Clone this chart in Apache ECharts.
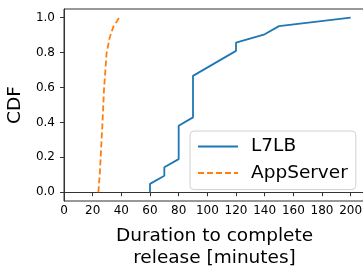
<!DOCTYPE html>
<html>
<head>
<meta charset="utf-8">
<script src="https://cdn.jsdelivr.net/npm/echarts@6/dist/echarts.min.js"></script>
<style>
  html, body { margin: 0; padding: 0; background: #fff; }
  #chart { width: 363px; height: 266px; }
</style>
</head>
<body>
<div id="chart"></div>
<script>
// CDF of release duration
const l7lbMinutes = [60, 60, 70, 70, 80, 80, 90, 90, 120, 120, 140, 150, 200]
const l7lbCdf = [0, 0.048, 0.095, 0.143, 0.19, 0.381, 0.429, 0.667, 0.81, 0.857, 0.905, 0.952, 1.0]

const appMinutes = [24, 25, 26.7, 27.9, 29.7, 32, 34.4, 38.5]
const appCdf = [0, 0.11, 0.376, 0.586, 0.796, 0.89, 0.948, 1.0]

const xTicks = [0, 20, 40, 60, 80, 100, 120, 140, 160, 180, 200]
const yTicks = [0, 0.2, 0.4, 0.6, 0.8, 1.0]

const font = 'DejaVu Sans'
const pair = (xs, ys) => xs.map((x, i) => [x, ys[i]])

const chart = echarts.init(document.getElementById('chart'), null, { renderer: 'canvas' })

chart.setOption({
  animation: false,
  grid: {
    left: 64, top: 9, width: 301, height: 192,
    outerBoundsMode: 'none', containLabel: false,
    show: true, borderColor: '#333', borderWidth: 1, backgroundColor: 'transparent'
  },
  xAxis: {
    type: 'value', min: 0, max: 210,
    name: 'Duration to complete\nrelease [minutes]',
    nameLocation: 'middle', nameGap: 24,
    nameTextStyle: { fontFamily: font, fontSize: 18.5, lineHeight: 22, color: '#000' },
    axisLine: { show: true, lineStyle: { color: '#333', width: 1 } },
    axisTick: { show: true, length: 4, customValues: xTicks, lineStyle: { color: '#333' } },
    axisLabel: { customValues: xTicks, margin: 4, fontFamily: font, fontSize: 12, color: '#000' },
    splitLine: { show: false }
  },
  yAxis: {
    type: 'value', min: -0.05, max: 1.05,
    name: 'CDF', nameLocation: 'middle', nameGap: 35,
    nameTextStyle: { fontFamily: font, fontSize: 18.5, color: '#000' },
    axisLine: { show: true, lineStyle: { color: '#333', width: 1 } },
    axisTick: { show: true, length: 4, customValues: yTicks, lineStyle: { color: '#333' } },
    axisLabel: {
      customValues: yTicks, margin: 9, fontFamily: font, fontSize: 12, color: '#000',
      formatter: v => v.toFixed(1)
    },
    splitLine: { show: false }
  },
  legend: {
    orient: 'vertical', left: 190, top: 131,
    padding: [5, 8, 6, 7], itemGap: 5.6,
    itemWidth: 40, itemHeight: 14,
    backgroundColor: 'rgba(255,255,255,0.85)',
    borderColor: '#d0d0d0', borderWidth: 1, borderRadius: 4,
    // hide the round marker ECharts puts on line legend icons
    itemStyle: { color: 'rgba(0,0,0,0)', borderWidth: 0, opacity: 0 },
    textStyle: { fontFamily: font, fontSize: 18.5, lineHeight: 21, color: '#000', padding: [0, 0, 0, 8] },
    data: ['L7LB', 'AppServer']
  },
  series: [
    {
      name: 'L7LB', type: 'line', symbol: 'none',
      data: pair(l7lbMinutes, l7lbCdf),
      lineStyle: { color: '#1f77b4', width: 1.8 },
      itemStyle: { color: '#1f77b4' }
    },
    {
      name: 'AppServer', type: 'line', symbol: 'none',
      data: pair(appMinutes, appCdf),
      lineStyle: { color: '#ff7f0e', width: 1.8, type: [6, 3] },
      itemStyle: { color: '#ff7f0e' }
    }
  ]
})
</script>
</body>
</html>
